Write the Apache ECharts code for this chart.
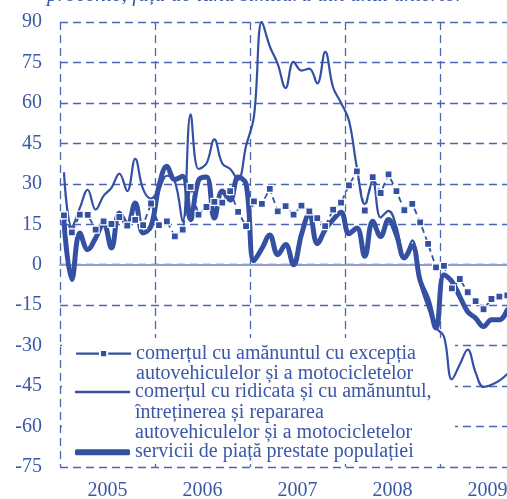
<!DOCTYPE html>
<html>
<head>
<meta charset="utf-8">
<script src="https://cdn.jsdelivr.net/npm/echarts@6/dist/echarts.min.js"></script>
<style>
  html, body { margin: 0; padding: 0; background: #fff; }
  #chart { width: 507px; height: 499px; }
</style>
</head>
<body>
<div id="chart"></div>
<script>
// years on the axis, one category per month for the data
const years = ['2005', '2006', '2007', '2008', '2009']
const months = []
years.forEach(y => {
  for (let m = 1; m <= 12; m++) months.push(y + '-' + (m < 10 ? '0' + m : m))
})

const seriesNames = [
  'comerțul cu amănuntul cu excepția\nautovehiculelor și a motocicletelor',
  'comerțul cu ridicata și cu amănuntul,\nîntreținerea și repararea\nautovehiculelor și a motocicletelor',
  'servicii de piață prestate populației'
]

// Jan 2005 .. Sep 2009
const retailExAuto = [18.3, 12.0, 18.6, 18.5, 13.0, 16.1, 15.1, 17.7, 14.5, 16.6, 14.7, 22.7,
  14.7, 16.1, 10.5, 13.0, 28.9, 18.6, 21.4, 23.3, 23.0, 27.3, 19.6, 14.3,
  23.5, 22.6, 28.1, 19.8, 21.7, 18.6, 21.9, 19.8, 17.3, 14.3, 20.4, 23.0,
  29.4, 34.6, 20.1, 32.5, 26.6, 33.5, 27.3, 20.2, 22.6, 15.7, 7.7, -1.0,
  -0.4, -8.8, -5.3, -10.2, -13.5, -16.5, -12.7, -11.8, -11.4]

const wholesaleRetailAuto = [34.3, 14, 21, 27.8, 20.4, 25.5, 28.5, 33.8, 27.3, 39.3, 28, 24.5,
  28, 33, 31, 16, 55.8, 35.5, 37.5, 46.5, 37.5, 35.5, 31.5, 44,
  55, 90, 81, 74.5, 65.5, 75.2, 72, 72.7, 67.2, 78.9, 65.7, 60,
  53.5, 36, 22.5, 31, 17.5, 20, 14, 3, 9, -7, -16, -23.4,
  -26.6, -42.5, -37, -31.5, -40, -45.3, -44.5, -43, -40.5]

const marketServices = [16, -5.5, 11.8, 5.6, 9.9, 15.5, 6.2, 19.2, 14.9, 22.9, 11.8, 14.3,
  29.1, 36.5, 31.6, 32.8, 16.7, 31.3, 32.5, 17.3, 27.3, 24, 32.5, 30,
  1.5, 6, 11, 3.7, 7.5, 0, 11.2, 19, 7.8, 13, 16.7, 19.5,
  11.5, 13.6, 3.1, 16.1, 10.5, 16.8, 11, 2.5, 7, -6, -13, -23.5,
  -3.7, -6.2, -11.8, -17.4, -19.8, -22.9, -20.4, -20.4, -16.7]

const blue = '#3350a2'
const textColor = '#3b57a7'
const gridColor = '#4d66b3'
const serif = '"Liberation Serif", "DejaVu Serif", serif'

// one legend per series so the icon sits on the first text line
function legendFor(i, top, lines, extra) {
  return Object.assign({
    data: [seriesNames[i]],
    left: 75,
    top: top,
    padding: 0,
    itemWidth: 55,
    itemGap: 0,
    z: 10,
    selectedMode: false,
    formatter: name => '\n'.repeat(lines - 1) + name,
    textStyle: {
      color: textColor,
      fontFamily: serif,
      fontSize: 20,
      lineHeight: 20.4
    }
  }, extra)
}

const chart = echarts.init(document.getElementById('chart'))

const options = {
  animation: false,
  color: [blue, blue, blue],
  title: {
    text: 'procente, față de luna similară din anul anterior',
    left: 47,
    top: -16,
    padding: 0,
    textStyle: {
      fontFamily: serif,
      fontStyle: 'italic',
      fontWeight: 'normal',
      fontSize: 21.5,
      color: textColor
    }
  },
  legend: [
    legendFor(0, 323, 2, { itemHeight: 9, lineStyle: { type: 'solid', width: 2.2 } }),
    legendFor(1, 341, 3, { itemHeight: 2.5, icon: 'rect' }),
    legendFor(2, 442, 1, { itemHeight: 6, icon: 'roundRect' })
  ],
  graphic: {
    elements: [{
      type: 'rect',
      x: 62,
      y: 338,
      z: 3,
      silent: true,
      shape: { x: 0, y: 0, width: 393, height: 126 },
      style: { fill: '#ffffff' }
    }]
  },
  grid: {
    left: 60,
    top: 22,
    width: 475,
    height: 445,
    outerBoundsMode: 'none'
  },
  xAxis: [{
    type: 'category',
    data: months,
    position: 'top',
    boundaryGap: true,
    axisLine: {
      onZero: true,
      lineStyle: { color: '#8e9ed3', width: 2 }
    },
    axisTick: { show: false },
    axisLabel: { show: false },
    splitLine: { show: false }
  }, {
    type: 'category',
    data: years,
    position: 'bottom',
    boundaryGap: true,
    axisLine: { show: false },
    axisTick: { show: false },
    axisLabel: {
      margin: 14,
      color: textColor,
      fontFamily: serif,
      fontSize: 20
    },
    splitLine: {
      show: true,
      lineStyle: { color: gridColor, width: 1.3, type: [8, 5] }
    }
  }],
  yAxis: {
    type: 'value',
    min: -75,
    max: 90,
    interval: 15,
    axisLine: { show: false },
    axisTick: { show: false },
    axisLabel: {
      margin: 18,
      color: textColor,
      fontFamily: serif,
      fontSize: 20
    },
    splitLine: {
      lineStyle: { color: gridColor, width: 1.3, type: [8, 5] }
    }
  },
  series: [{
    name: seriesNames[0],
    type: 'line',
    xAxisIndex: 0,
    data: retailExAuto,
    symbol: 'rect',
    symbolSize: 7,
    showAllSymbol: true,
    z: 7,
    lineStyle: { color: blue, width: 1.8, type: [6, 4] },
    itemStyle: { color: blue, borderColor: '#fff', borderWidth: 1.2 }
  }, {
    name: seriesNames[1],
    type: 'line',
    xAxisIndex: 0,
    data: wholesaleRetailAuto,
    smooth: 0.4,
    symbol: 'none',
    z: 5,
    lineStyle: { color: blue, width: 2.2 }
  }, {
    name: seriesNames[2],
    type: 'line',
    xAxisIndex: 0,
    data: marketServices,
    smooth: 0.4,
    symbol: 'none',
    z: 6,
    lineStyle: { color: blue, width: 5, cap: 'round' }
  }]
}
chart.setOption(options)
</script>
</body>
</html>
